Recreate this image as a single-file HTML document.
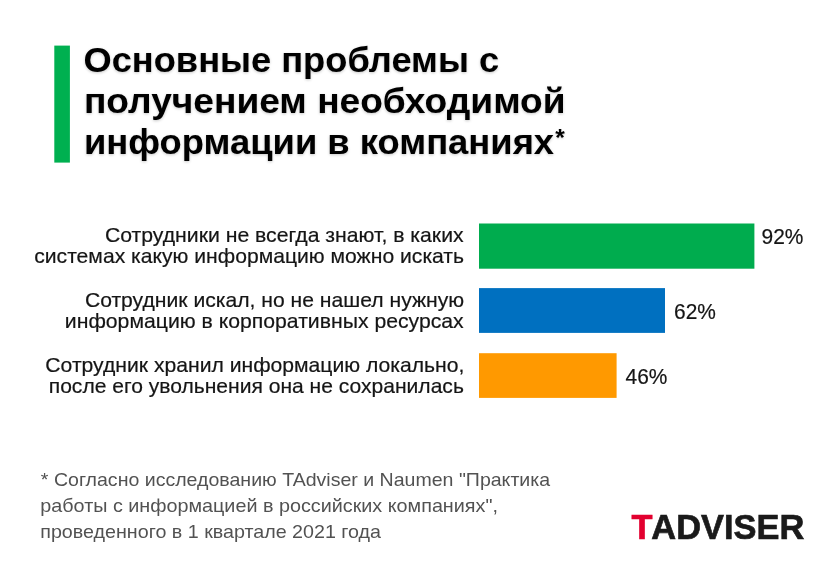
<!DOCTYPE html>
<html lang="ru">
<head>
<meta charset="utf-8">
<title>Основные проблемы с получением необходимой информации в компаниях</title>
<style>
  html, body { margin: 0; padding: 0; background: #ffffff; }
  body { width: 840px; height: 570px; position: relative; overflow: hidden;
         font-family: "Liberation Sans", sans-serif; color: #111; }
  .ln { position: absolute; white-space: nowrap; transform-origin: 0 0; }
  .t { font-weight: bold; font-size: 35.5px; line-height: 41px; color: #000;
       text-shadow: 0 1px 3px rgba(0,0,0,0.22); }
  .star { position: absolute; left: 555.2px; top: 125px; font-weight: bold; font-size: 24.5px; line-height: 26px; color: #000;
       text-shadow: 0 1px 2px rgba(0,0,0,0.22); }
  .lab { font-size: 21px; line-height: 22px; color: #151515; -webkit-text-stroke: 0.2px; }
  .val { font-size: 21.5px; line-height: 22px; color: #151515; -webkit-text-stroke: 0.2px; }
  .fn { font-size: 18.5px; line-height: 26px; color: #525252; }
  .logo { font-weight: bold; font-size: 35.5px; line-height: 40px; color: #1a1a1a; letter-spacing: 0; -webkit-text-stroke: 0.7px; }
  .logo b { color: #e2002f; letter-spacing: -1.2px; }
  svg.shapes { position: absolute; left: 0; top: 0; }
</style>
</head>
<body>
  <svg class="shapes" width="840" height="570" viewBox="0 0 840 570">
    <rect x="54.3" y="45.6" width="15.6" height="117" fill="#00b050"/>
    <rect x="479" y="223.5" width="275.4" height="45.2" fill="#00ac4e"/>
    <rect x="479" y="288.1" width="186" height="44.8" fill="#0070c0"/>
    <rect x="479" y="353.2" width="137.6" height="44.7" fill="#ff9900"/>
  </svg>
  <div class="ln t" id="t1" style="left:0;top:40px;transform:translateX(83.47px) scaleX(1.0210)">Основные проблемы с</div>
  <div class="ln t" id="t2" style="left:0;top:81px;transform:translateX(83.89px) scaleX(1.0455)">получением необходимой</div>
  <div class="ln t" id="t3" style="left:0;top:122px;transform:translateX(83.94px) scaleX(1.0243)">информации в компаниях</div>
  <div class="star" id="star">*</div>
  <div class="ln lab" id="l1" style="left:0;top:224px;transform:translateX(104.89px) scaleX(1.0100)">Сотрудники не всегда знают, в каких</div>
  <div class="ln lab" id="l2" style="left:0;top:245px;transform:translateX(34.25px) scaleX(1.0061)">системах какую информацию можно искать</div>
  <div class="ln lab" id="l3" style="left:0;top:289px;transform:translateX(84.89px) scaleX(1.0061)">Сотрудник искал, но не нашел нужную</div>
  <div class="ln lab" id="l4" style="left:0;top:310px;transform:translateX(64.84px) scaleX(1.0094)">информацию в корпоративных ресурсах</div>
  <div class="ln lab" id="l5" style="left:0;top:354px;transform:translateX(45.34px) scaleX(1.0065)">Сотрудник хранил информацию локально,</div>
  <div class="ln lab" id="l6" style="left:0;top:375px;transform:translateX(48.75px) scaleX(1.0027)">после его увольнения она не сохранилась</div>
  <div class="ln val" id="v1" style="left:0;top:226px;transform:translateX(761.58px) scaleX(0.9735)">92%</div>
  <div class="ln val" id="v2" style="left:0;top:301px;transform:translateX(674.03px) scaleX(0.9723)">62%</div>
  <div class="ln val" id="v3" style="left:0;top:366px;transform:translateX(625.51px) scaleX(0.9726)">46%</div>
  <div class="ln fn" id="f1" style="left:0;top:467px;transform:translateX(40.87px) scaleX(1.0565)">* Согласно исследованию TAdviser и Naumen "Практика</div>
  <div class="ln fn" id="f2" style="left:0;top:493px;transform:translateX(40.26px) scaleX(1.0685)">работы с информацией в российских компаниях",</div>
  <div class="ln fn" id="f3" style="left:0;top:519px;transform:translateX(40.27px) scaleX(1.0638)">проведенного в 1 квартале 2021 года</div>
  <div class="ln logo" id="lg" style="left:0;top:507px;transform:translateX(631.50px) scaleX(0.9691)"><b>T</b>ADVISER</div>
</body>
</html>
